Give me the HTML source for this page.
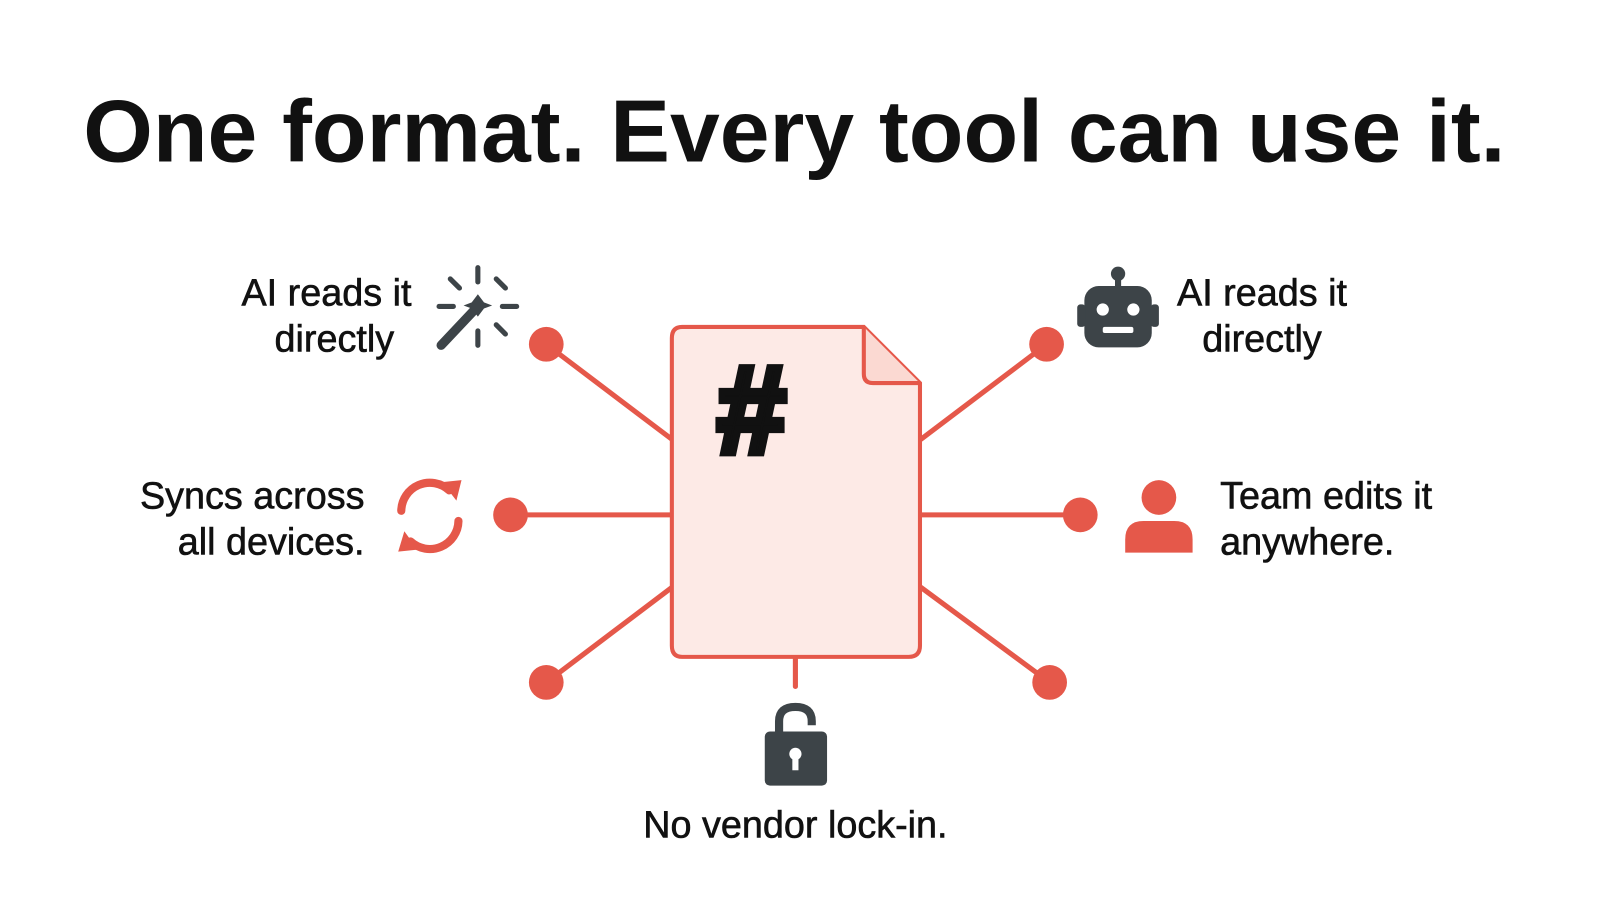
<!DOCTYPE html>
<html><head><meta charset="utf-8"><style>
html,body{margin:0;padding:0;background:#fff;width:1600px;height:900px;overflow:hidden}
svg{display:block}
text{font-family:"Liberation Sans",Arial,sans-serif;fill:#111}
</style></head><body>
<svg width="1600" height="900" viewBox="0 0 1567 881" preserveAspectRatio="none">
<text x="778" y="158" text-anchor="middle" font-size="86" font-weight="bold" textLength="1393" lengthAdjust="spacingAndGlyphs">One format. Every tool can use it.</text>
<g stroke="#e5584a" stroke-width="5" fill="none" stroke-linecap="round">
<line x1="535" y1="337" x2="658" y2="430"/>
<line x1="500" y1="504" x2="658" y2="504"/>
<line x1="535" y1="668" x2="658" y2="575"/>
<line x1="1025" y1="337" x2="902" y2="430"/>
<line x1="1058" y1="504" x2="902" y2="504"/>
<line x1="1028" y1="668" x2="902" y2="575"/>
<line x1="779" y1="643" x2="779" y2="672"/>
</g>
<g fill="#e5584a">
<circle cx="535" cy="337" r="17"/><circle cx="500" cy="504" r="17"/><circle cx="535" cy="668" r="17"/>
<circle cx="1025" cy="337" r="17"/><circle cx="1058" cy="504" r="17"/><circle cx="1028" cy="668" r="17"/>
</g>
<path d="M668 320 H846 L901 375 V632 Q901 643 890 643 H668 Q658 643 658 632 V331 Q658 320 668 320 Z" fill="#fdeae6" stroke="#e5584a" stroke-width="4"/>
<path d="M846 320 V366 Q846 375 855 375 H901" fill="#fbd9d2" stroke="#e5584a" stroke-width="4"/>
<text x="736" y="443" text-anchor="middle" font-size="122" font-weight="bold" stroke="#111" stroke-width="7">#</text>
<!-- wand -->
<g stroke="#3d4448" stroke-width="5" stroke-linecap="round">
<line x1="468" y1="262" x2="468" y2="276"/><line x1="468" y1="324" x2="468" y2="338"/>
<line x1="430" y1="300" x2="444" y2="300"/><line x1="492" y1="300" x2="506" y2="300"/>
<line x1="441" y1="273" x2="450" y2="282"/><line x1="486" y1="273" x2="495" y2="282"/>
<line x1="486" y1="318" x2="495" y2="327"/>
<line x1="432" y1="338" x2="465" y2="303" stroke-width="9"/>
</g>
<path d="M468 288 L474 296 L482 299 L474 302 L468 310 L462 302 L454 299 L462 296Z" fill="#3d4448"/>
<!-- robot -->
<g fill="#3d4448">
<circle cx="1095" cy="268" r="7"/><rect x="1092" y="268" width="6" height="14"/>
<rect x="1062" y="280" width="66" height="60" rx="14"/>
<rect x="1055" y="298" width="8" height="22" rx="3"/><rect x="1127" y="298" width="8" height="22" rx="3"/>
</g>
<circle cx="1080" cy="303" r="6" fill="#fff"/><circle cx="1110" cy="303" r="6" fill="#fff"/>
<rect x="1080" y="320" width="30" height="6" rx="2" fill="#fff"/>
<!-- sync -->
<g stroke="#e5584a" stroke-width="8" fill="none" stroke-linecap="round">
<path d="M393 500 A28 28 0 0 1 440 480"/>
<path d="M449 510 A28 28 0 0 1 402 530"/>
</g>
<path d="M433 472 L452 470 L447 490Z M409 538 L390 540 L396 520Z" fill="#e5584a"/>
<!-- person -->
<g fill="#e5584a"><circle cx="1135" cy="487" r="17"/><path d="M1102 541 V528 Q1102 510 1120 510 H1150 Q1168 510 1168 528 V541Z"/></g>
<!-- lock -->
<path d="M763 716 V706 Q763 692 779 692 Q795 692 795 706 V710" fill="none" stroke="#3d4448" stroke-width="8"/>
<rect x="749" y="716" width="61" height="53" rx="5" fill="#3d4448"/>
<circle cx="779" cy="738" r="6" fill="#fff"/><rect x="776" y="740" width="6" height="14" fill="#fff"/>
<g font-size="37" stroke="#111" stroke-width="0.6">
<text x="403" y="299" text-anchor="end">AI reads it</text>
<text x="386" y="344" text-anchor="end">directly</text>
<text x="1236" y="299" text-anchor="middle">AI reads it</text>
<text x="1236" y="344" text-anchor="middle">directly</text>
<text x="357" y="498" text-anchor="end">Syncs across</text>
<text x="357" y="543" text-anchor="end">all devices.</text>
<text x="1195" y="498">Team edits it</text>
<text x="1195" y="543">anywhere.</text>
<text x="779" y="820" text-anchor="middle">No vendor lock-in.</text>
</g>
</svg>
</body></html>
